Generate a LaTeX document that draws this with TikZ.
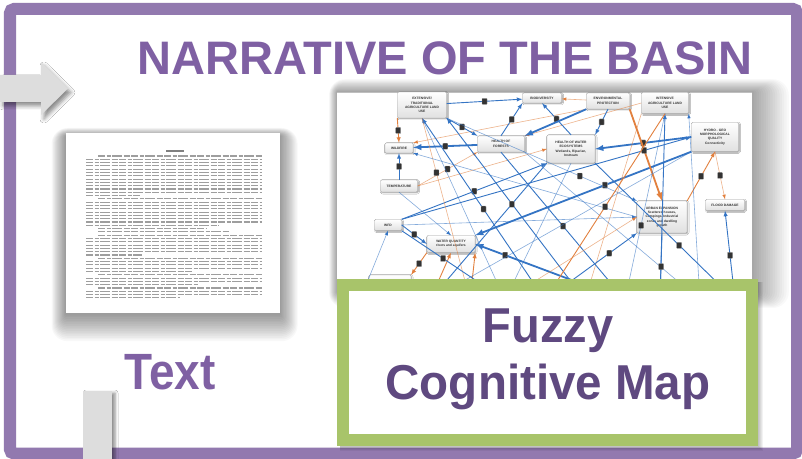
\documentclass[tikz,border=0pt]{standalone}
\usepackage{fontspec}
\setmainfont{Liberation Sans}
\usepackage{tikz}
\usetikzlibrary{positioning}
\usetikzlibrary{arrows}
\usetikzlibrary{shadows.blur}

\definecolor{framepurple}{RGB}{146,121,175}
\definecolor{titlepurple}{RGB}{127,96,163}
\definecolor{mappurple}{RGB}{95,73,128}
\definecolor{boxgreen}{RGB}{168,196,106}
\definecolor{slidegray}{RGB}{221,221,221}
\definecolor{linkblue}{RGB}{52,116,196}
\definecolor{linkorange}{RGB}{226,128,62}

\tikzset{
  concept/.style={draw=black!35, line width=0.4bp, rounded corners=1.2bp,
    top color=white, bottom color=black!12, text=black!80, align=center,
    font=\fontsize{3.3bp}{4.3bp}\selectfont\bfseries, inner sep=0.5bp,
    blur shadow={shadow xshift=0.8bp, shadow yshift=-0.8bp, shadow blur radius=1.2bp, shadow opacity=40}},
  pluslink/.style={draw=linkblue, line width=0.9bp, -latex},
  minuslink/.style={draw=linkorange, line width=0.9bp, -latex},
  heavy/.style={line width=1.8bp},
  faint/.style={line width=0.6bp, draw opacity=0.6},
  wt/.style={fill=black!80, draw=black!40, line width=0.3bp, rounded corners=0.6bp,
    minimum width=5bp, minimum height=6bp, inner sep=0pt},
  textline/.style={draw=black!38, line width=1.1bp,
    dash pattern=on 7bp off 1.5bp on 4bp off 1.5bp on 10bp off 1.5bp on 6bp off 1.5bp},
  haze/.style={black, opacity=#1},
  bigword/.style={font=\bfseries, anchor=base}
}

\begin{document}
\begin{tikzpicture}[x=1bp, y=-1bp]  % one unit = one pixel, y runs downwards
    \fill[white] (0,0) rectangle (802,459);
    \useasboundingbox (0,0) rectangle (802,459);

    % Slide frame
    \draw[framepurple, line width=12bp, rounded corners=4bp] (10,9) rectangle (797,453.5);

    % Grey arrow and grey bar over the frame
    \fill[slidegray, blur shadow={shadow xshift=3bp, shadow yshift=-4bp, shadow blur radius=4bp, shadow opacity=45}]
        (0,75) -- (41,75) -- (41,62) -- (68,88.5) -- (41,115) -- (41,102) -- (0,102) -- cycle;
    \fill[slidegray, blur shadow={shadow xshift=3bp, shadow yshift=-2bp, shadow blur radius=3bp, shadow opacity=45}]
        (83,391) rectangle (112,470);

    % Soft shadows of the page and of the map
    \foreach \r in {1,...,16}
        \fill[haze=0.028, rounded corners=\r bp] (66-0.9*\r,136-0.5*\r) rectangle (280+1.1*\r,314+1.7*\r);
    \foreach \r in {1,...,16}
        \fill[haze=0.024, rounded corners=\r bp] (337-0.5*\r,92-0.8*\r) rectangle (752+2.3*\r,292+\r);

    % Text page
    \fill[white] (66,133) rectangle (280,313);
    \draw[black!50, line width=1.1bp] (166,151) -- (184,151);
    \foreach \s/\n in {0/13,13/9,22/1,23/1,24/7,31/5,36/4,40/4} {
        \foreach \k in {1,...,\n} {
            \pgfmathsetmacro\ly{156+3.3*(\s+\k-1)}
            \pgfmathsetmacro\lx{\k==1 ? 98 : 86}
            \pgfmathsetmacro\rx{\k==\n ? 140+mod(\s*23,110) : 262}
            \draw[textline] (\lx,\ly) -- (\rx,\ly);
        }
    }

    % Fuzzy cognitive map
    \fill[white] (337,92) rectangle (752,292);
    \draw[black!25, line width=0.5bp] (337,92) -- (752,92);
    \begin{scope}
    \clip (337,92) rectangle (752,292);

    % Concepts
    \node[concept, minimum width=49bp, minimum height=26bp] (ext) at (422,105) {EXTENSIVE/\\TRADITIONAL\\AGRICULTURE LAND\\USE};
    \node[concept, minimum width=39bp, minimum height=10bp] (bio) at (542,98) {BIODIVERSITY};
    \node[concept, minimum width=43bp, minimum height=16bp] (env) at (608,101) {ENVIRONMENTAL\\PROTECTION};
    \node[concept, minimum width=47bp, minimum height=21bp] (intag) at (665,103) {INTENSIVE\\AGRICULTURE LAND\\USE};
    \node[concept, minimum width=28bp, minimum height=10bp] (wild) at (399,148) {WILDFIRE};
    \node[concept, minimum width=47bp, minimum height=16bp] (forest) at (501,144) {HEALTH OF\\FORESTS};
    \node[concept, minimum width=48bp, minimum height=28bp] (water) at (571,149) {HEALTH OF WATER\\ECOSYSTEMS\\Wetlands, Riparian,\\Instream};
    \node[concept, minimum width=47bp, minimum height=29bp] (hydro) at (715,137) {HYDRO - GEO\\MORPHOLOGICAL\\QUALITY\\Connectivity};
    \node[concept, minimum width=37bp, minimum height=12bp] (temp) at (399,186) {TEMPERATURE};
    \node[concept, minimum width=27bp, minimum height=11bp] (wfd) at (388,225) {WFD};
    \node[concept, minimum width=48bp, minimum height=17bp] (wq) at (451,244) {WATER QUANTITY\\rivers and aquifers};
    \node[concept, minimum width=50bp, minimum height=32bp] (urban) at (662,217) {URBAN EXPANSION\\Scattered houses,\\Campings, Industrial\\zones and dwelling\\growth};
    \node[concept, minimum width=39bp, minimum height=11bp] (flood) at (725,205) {FLOOD DAMAGE};
    \node[concept, minimum width=42bp, minimum height=18bp] (crop) at (390,284) {};

    % Ends of links running under the green box
    \coordinate (b0) at (360,300);
    \coordinate (b1) at (430,300);
    \coordinate (b2) at (470,300);
    \coordinate (b3) at (505,300);
    \coordinate (b4) at (545,300);
    \coordinate (b5) at (585,300);
    \coordinate (b6) at (625,300);
    \coordinate (b7) at (660,300);
    \coordinate (b8) at (700,300);
    \coordinate (b9) at (735,300);

    % Links
    \draw[pluslink] (ext) -- node[wt] {} (bio);
    \draw[minuslink, faint] (env) -- (bio);
    \draw[minuslink, faint] (env.south west) -- (wild.north east);
    \draw[minuslink, faint] (intag.west) -- (forest.north east);
    \draw[minuslink] (ext.south west) -- node[wt] {} (wild.north);
    \draw[pluslink, heavy] (forest) -- node[wt] {} (wild);
    \draw[pluslink] (temp) -- node[wt] {} (wild);
    \draw[pluslink] (ext.south east) -- node[wt] {} (forest.north west);
    \draw[pluslink] (forest.north) -- node[wt] {} (bio.south west);
    \draw[pluslink] (water.north) -- node[wt] {} (bio.south);
    \draw[pluslink] (env.south) -- node[wt] {} (water.north east);
    \draw[pluslink, heavy] (env.south west) -- (forest.north east);
    \draw[pluslink, heavy] (hydro.west) -- node[wt] {} (water.east);
    \draw[pluslink, heavy] (hydro.south west) -- node[wt, pos=0.4] {} (wq.north east);
    \draw[pluslink] (wfd.north east) -- (hydro.west);
    \draw[minuslink] (urban.north east) -- node[wt] {} (hydro.south);
    \draw[minuslink, faint] (hydro.south) -- node[wt] {} (flood.north);
    \draw[minuslink, heavy] (env.south east) -- node[wt, pos=0.45] {} (urban.north);
    \draw[minuslink, faint] (intag.south west) -- (b5);
    \draw[pluslink] (b7) -- (intag.south);
    \draw[pluslink, faint] (b8) -- (intag.south east);
    \draw[minuslink, faint] (temp.east) -- node[wt] {} (forest.south west);
    \draw[minuslink, faint] (temp.east) -- (water.west);
    \draw[pluslink] (wfd.north east) -- node[wt] {} (water.south west);
    \draw[pluslink] (wfd.east) -- node[wt] {} (wq.west);
    \draw[pluslink, faint] (temp.south) -- (wq.north);
    \draw[minuslink] (b1) -- (wq.south);
    \draw[minuslink] (b2) -- (wq.south east);
    \draw[minuslink] (wq.south west) -- node[wt] {} (crop.north east);
    \draw[pluslink] (b4) -- node[wt] {} (ext.south);
    \draw[pluslink] (b5) -- (ext.south east);
    \draw[pluslink, faint] (b3) -- (ext.south);
    \draw[minuslink, faint] (ext.south) -- node[wt, pos=0.3] {} (b2);
    \draw[pluslink] (forest.south) -- node[wt] {} (b6);
    \draw[pluslink, faint] (forest.south east) -- (b8);
    \draw[pluslink] (water.south west) -- node[wt, pos=0.3] {} (b1);
    \draw[pluslink, faint] (water.south) -- (b3);
    \draw[pluslink] (urban.south) -- node[wt] {} (b7);
    \draw[pluslink] (b9) -- node[wt] {} (flood.south);
    \draw[pluslink, faint] (urban.west) -- (wild.south east);
    \draw[pluslink, faint] (wfd.east) -- (urban.west);
    \draw[pluslink] (b4) -- node[wt, pos=0.7] {} (urban.south west);
    \draw[pluslink] (water.south east) -- node[wt, pos=0.6] {} (b9);
    \draw[pluslink, faint] (ext.south east) -- node[wt, pos=0.7] {} (urban.north west);
    \draw[pluslink, faint] (intag.south) -- node[wt, pos=0.6] {} (b6);
    \draw[pluslink, heavy] (b6) -- node[wt, pos=0.8] {} (wq.east);
    \draw[pluslink] (wfd.south east) -- node[wt, pos=0.4] {} (b3);
    \draw[pluslink, faint] (hydro.south west) -- (b1);
    \draw[minuslink, faint] (b3) -- (urban.west);
    \draw[minuslink] (intag.south) -- node[wt, pos=0.5] {} (b4);
    \draw[pluslink, faint] (b0) -- (wfd.south);
    \end{scope}

    % Labels
    \node[bigword, text=titlepurple, font=\fontsize{47bp}{50bp}\selectfont\bfseries] (title) at (445,75) {NARRATIVE OF THE BASIN};
    \node[bigword, text=titlepurple, font=\fontsize{51bp}{54bp}\selectfont\bfseries] (textlabel) at (170,389) {\scalebox{0.9}[1]{Text}};

    \foreach \r in {1,...,5}
        \fill[haze=0.05] (340,282) rectangle (757.5+\r,446+\r);
    \node[draw=boxgreen, line width=12bp, fill=white, minimum width=408.5bp, minimum height=155bp, inner sep=0pt] (mapbox) at (547.25,362.5) {};
    \node[bigword, text=mappurple, font=\fontsize{49bp}{52bp}\selectfont\bfseries] (fuzzy) at (548,343) {\scalebox{0.96}[1]{Fuzzy}};
    \node[bigword, text=mappurple, font=\fontsize{49bp}{52bp}\selectfont\bfseries] (cogmap) at (548,399) {\scalebox{0.97}[1]{Cognitive Map}};
\end{tikzpicture}
\end{document}
